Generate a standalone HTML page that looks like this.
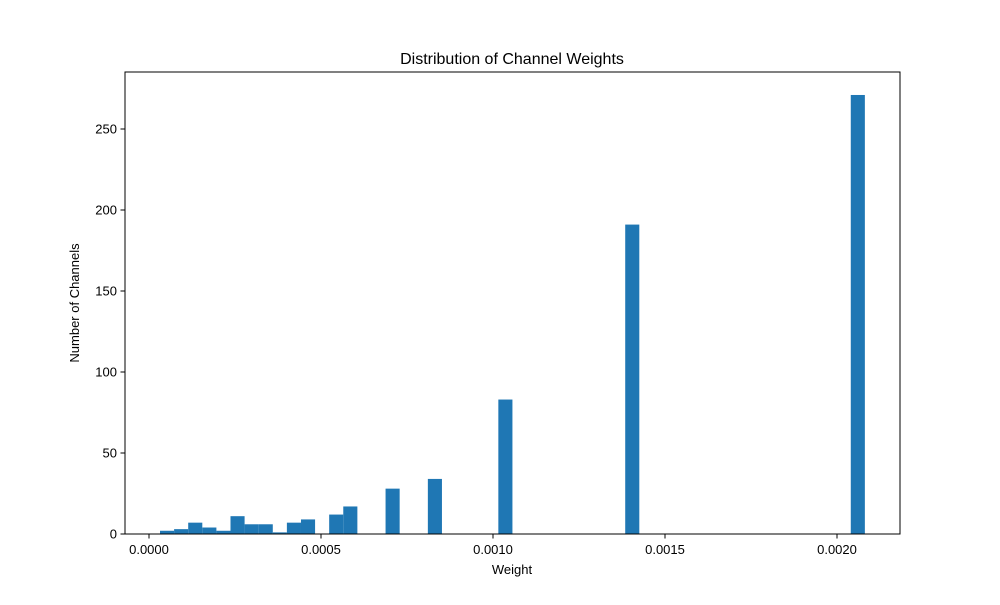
<!DOCTYPE html>
<html><head><meta charset="utf-8"><style>
body{margin:0;background:#fff;}
svg text{font-family:"Liberation Sans","DejaVu Sans",sans-serif;fill:#000;}
</style></head><body>
<svg id="chart" width="1000" height="600" viewBox="0 0 1000 600">
<rect width="1000" height="600" fill="#fff"/>
<text x="512" y="64" font-size="16" text-anchor="middle">Distribution of Channel Weights</text>
<g id="bars"></g>
<rect x="125" y="72" width="775" height="462" fill="none" stroke="#000" stroke-width="1"/>
<g id="xticks"></g>
<g id="yticks"></g>
<text x="512" y="574" font-size="13" text-anchor="middle">Weight</text>
<text x="0" y="0" font-size="13" text-anchor="middle" transform="translate(79,303) rotate(-90)">Number of Channels</text>
</svg>
<script>
const counts = [2,3,7,4,2,11,6,6,1,7,9,0,12,17,0,0,28,0,0,34,0,0,0,0,83,0,0,0,0,0,0,0,0,191,0,0,0,0,0,0,0,0,0,0,0,0,0,0,0,271];
const binMin = 0.000032;
const binMax = 0.002081;
const xTicks = [0,0.0005,0.0010,0.0015,0.0020];
const xTickLabels = ["0.0000","0.0005","0.0010","0.0015","0.0020"];
const yTicks = [0,50,100,150,200,250];
const NS="http://www.w3.org/2000/svg";
function xs(v){return 149+v*344000;}
function ys(v){return 534-v*1.62;}
const bw=(binMax-binMin)/counts.length;
const bars=document.getElementById('bars');
counts.forEach((c,i)=>{
  if(c<=0)return;
  const r=document.createElementNS(NS,'rect');
  const x0=xs(binMin+i*bw), x1=xs(binMin+(i+1)*bw);
  r.setAttribute('x',x0);r.setAttribute('width',x1-x0);
  r.setAttribute('y',ys(c));r.setAttribute('height',ys(0)-ys(c));
  r.setAttribute('fill','#1f77b4');
  
  
  bars.appendChild(r);
});
const xg=document.getElementById('xticks');
xTicks.forEach((v,i)=>{
  const l=document.createElementNS(NS,'line');
  l.setAttribute('x1',xs(v));l.setAttribute('x2',xs(v));l.setAttribute('y1',534);l.setAttribute('y2',538.5);l.setAttribute('stroke','#000');
  
  
  xg.appendChild(l);
  const t=document.createElementNS(NS,'text');
  t.setAttribute('x',xs(v));t.setAttribute('y',554);t.setAttribute('font-size','13');t.setAttribute('text-anchor','middle');
  t.textContent=xTickLabels[i];
  
  
  xg.appendChild(t);
});
const yg=document.getElementById('yticks');
yTicks.forEach(v=>{
  const l=document.createElementNS(NS,'line');
  l.setAttribute('x1',120.5);l.setAttribute('x2',125);l.setAttribute('y1',ys(v));l.setAttribute('y2',ys(v));l.setAttribute('stroke','#000');
  
  
  yg.appendChild(l);
  const t=document.createElementNS(NS,'text');
  t.setAttribute('x',117);t.setAttribute('y',ys(v)+4.5);t.setAttribute('font-size','13');t.setAttribute('text-anchor','end');
  t.textContent=String(v);
  
  
  yg.appendChild(t);
});
</script>
</body></html>
